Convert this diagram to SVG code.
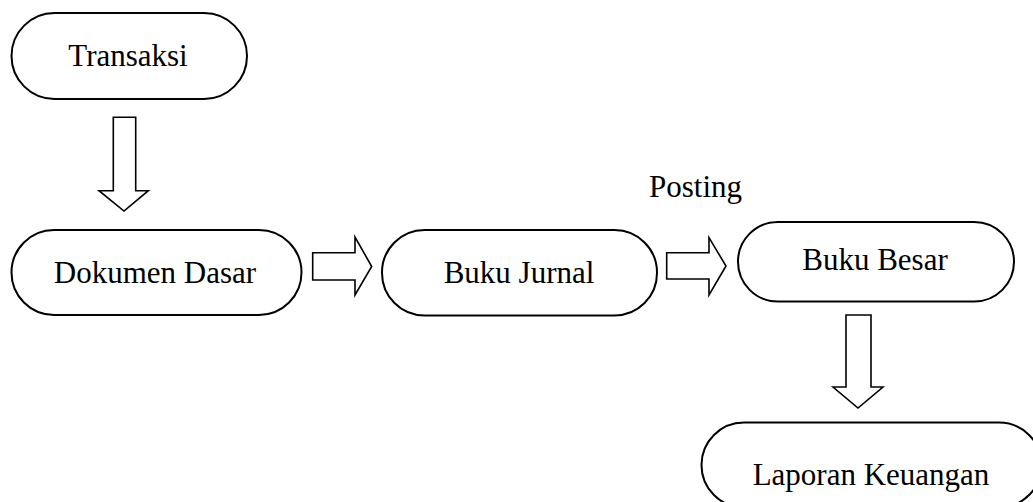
<svg xmlns="http://www.w3.org/2000/svg" width="1033" height="502" viewBox="0 0 1033 502">
<style>
.node{fill:#fff;stroke:#000;stroke-width:2}
.arr{fill:#fff;stroke:#000;stroke-width:1.6;stroke-linejoin:miter}
text{font-family:"Liberation Serif","Times New Roman",serif;font-size:31px;fill:#000;text-anchor:middle}
</style>
<rect width="1033" height="502" fill="#fff"/>
<g id="transaksi"><rect class="node" x="11.5" y="13" width="235.5" height="86" rx="43" ry="43"/><text x="128" y="66">Transaksi</text></g>
<g id="dokumen-dasar"><rect class="node" x="11.5" y="230" width="290" height="85" rx="42.5" ry="42.5"/><text x="155" y="283">Dokumen Dasar</text></g>
<g id="buku-jurnal"><rect class="node" x="382" y="230" width="275" height="85.5" rx="42.5" ry="42.5"/><text x="519" y="283">Buku Jurnal</text></g>
<g id="buku-besar"><rect class="node" x="738" y="222" width="276" height="79.5" rx="39.75" ry="39.75"/><text x="875" y="270">Buku Besar</text></g>
<g id="laporan-keuangan"><rect class="node" x="701.5" y="422.5" width="340" height="85" rx="42.5" ry="42.5"/><text x="871" y="485">Laporan Keuangan</text></g>
<g id="connectors">
<path class="arr" d="M113.3,117.3 H135.7 V190.7 H148.3 L124,211 L99,190.7 H113.3 Z"/>
<path class="arr" d="M312.7,252.7 H355 V237 L371.7,266.5 L355,295 V280 H312.7 Z"/>
<path class="arr" d="M666.7,252.7 H709 V237.7 L726,266 L709,295 V279 H666.7 Z"/>
<text x="695.5" y="197">Posting</text>
<path class="arr" d="M846,315 H871 V387 H883 L858,408 L833,387 H846 Z"/>
</g>
</svg>
